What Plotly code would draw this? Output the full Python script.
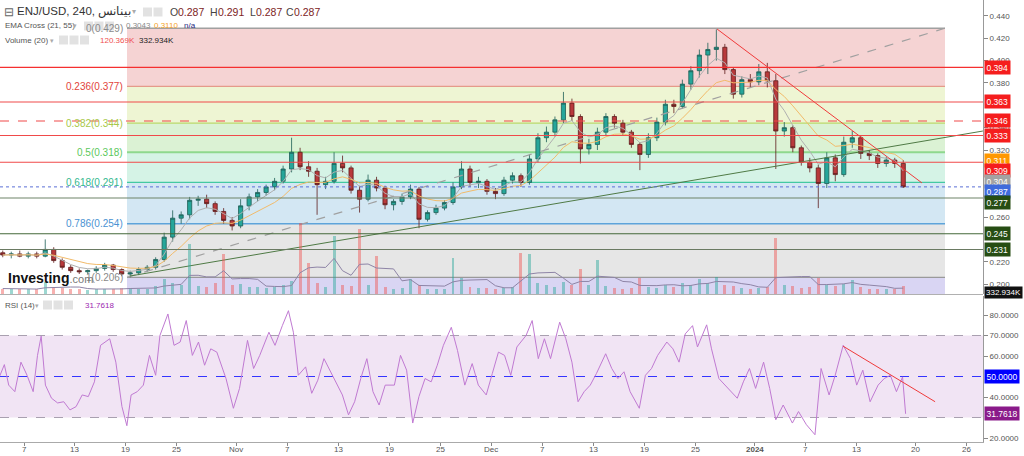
import pandas as pd
import plotly.graph_objects as go

# ---------------- DATA ----------------
dates = pd.date_range("2023-10-04", "2024-01-18", freq="D")

opens = [0.228,0.226,0.227,0.225,0.227,0.225,0.231,0.221,0.215,0.212,0.211,0.212,0.214,0.217,0.213,0.209,0.210,0.213,0.215,0.222,0.242,0.259,0.262,0.275,0.276,0.272,0.265,0.257,
         0.252,0.270,0.278,0.282,0.287,0.292,0.303,0.318,0.305,0.301,0.289,0.292,0.308,0.304,0.284,0.276,0.293,0.286,0.271,0.274,0.278,0.285,0.258,0.264,0.268,0.273,0.287,0.303,0.291,0.292,
         0.283,0.281,0.293,0.297,0.291,0.312,0.331,0.336,0.347,0.362,0.350,0.321,0.325,0.336,0.350,0.344,0.336,0.325,0.316,0.331,0.345,0.361,0.359,0.379,0.391,0.405,0.410,0.412,0.392,0.370,0.383,
         0.381,0.390,0.382,0.337,0.340,0.322,0.309,0.304,0.290,0.313,0.298,0.327,0.331,0.317,0.315,0.308,0.311,0.308]
highs = [0.230,0.229,0.230,0.229,0.229,0.240,0.233,0.223,0.217,0.214,0.213,0.216,0.219,0.218,0.214,0.212,0.215,0.217,0.224,0.246,0.266,0.265,0.278,0.279,0.280,0.274,0.268,0.260,
         0.276,0.281,0.285,0.289,0.295,0.306,0.331,0.322,0.310,0.304,0.296,0.318,0.315,0.306,0.288,0.298,0.296,0.288,0.276,0.281,0.289,0.287,0.266,0.271,0.275,0.291,0.310,0.306,0.296,0.294,
         0.286,0.296,0.300,0.299,0.316,0.335,0.341,0.350,0.372,0.366,0.352,0.330,0.340,0.353,0.352,0.347,0.338,0.327,0.335,0.349,0.365,0.365,0.383,0.395,0.410,0.416,0.428,0.415,0.394,0.386,0.388,
         0.397,0.398,0.388,0.345,0.342,0.324,0.313,0.307,0.318,0.316,0.332,0.337,0.333,0.320,0.317,0.314,0.313,0.311]
lows = [0.224,0.223,0.224,0.223,0.223,0.224,0.219,0.213,0.210,0.209,0.209,0.210,0.212,0.211,0.207,0.206,0.208,0.211,0.213,0.220,0.238,0.254,0.258,0.270,0.268,0.262,0.254,0.248,
        0.250,0.266,0.274,0.279,0.284,0.290,0.300,0.302,0.296,0.262,0.285,0.290,0.300,0.281,0.264,0.274,0.283,0.267,0.266,0.271,0.276,0.250,0.256,0.262,0.266,0.271,0.285,0.287,0.286,0.280,
        0.276,0.279,0.290,0.287,0.289,0.309,0.327,0.332,0.344,0.346,0.308,0.316,0.320,0.333,0.340,0.333,0.322,0.302,0.313,0.328,0.342,0.353,0.357,0.374,0.385,0.388,0.400,0.388,0.366,0.367,0.376,
        0.378,0.376,0.303,0.332,0.318,0.306,0.300,0.268,0.286,0.292,0.296,0.322,0.312,0.311,0.304,0.305,0.304,0.286]
closes = [0.226,0.227,0.225,0.227,0.225,0.231,0.221,0.215,0.212,0.211,0.212,0.214,0.217,0.213,0.209,0.210,0.213,0.215,0.222,0.242,0.259,0.262,0.275,0.276,0.272,0.265,0.257,0.252,
          0.270,0.278,0.282,0.287,0.292,0.303,0.318,0.305,0.301,0.289,0.292,0.308,0.304,0.284,0.276,0.293,0.286,0.271,0.274,0.278,0.285,0.258,0.264,0.268,0.273,0.287,0.303,0.291,0.292,0.283,
          0.281,0.293,0.297,0.291,0.312,0.331,0.336,0.347,0.362,0.350,0.321,0.325,0.336,0.350,0.344,0.336,0.325,0.316,0.331,0.345,0.361,0.359,0.379,0.391,0.405,0.410,0.412,0.392,0.370,0.383,0.381,
          0.390,0.382,0.337,0.340,0.322,0.309,0.304,0.290,0.313,0.298,0.327,0.331,0.317,0.315,0.308,0.311,0.308,0.287]
volumes_k = [300,280,260,250,270,650,400,320,280,260,240,260,300,280,320,350,300,280,420,850,600,500,2750,450,400,600,2200,500,
             550,400,380,350,400,500,700,3900,1700,600,400,3200,500,450,3600,500,2100,400,300,320,830,500,300,280,260,2000,900,400,350,320,
             300,350,400,2250,2200,600,500,400,650,500,1400,500,1850,450,350,300,350,900,400,350,500,400,600,500,800,600,950,500,450,350,300,
             350,400,3100,500,450,350,400,900,500,450,550,750,400,300,280,300,280,450]

# RSI(14): day offsets from 2023-10-07 and values
rsi_day = [-2.88,-2.31,-1.80,-1.08,-0.36,0.36,1.08,1.59,2.02,2.52,3.24,3.96,4.68,5.41,6.13,6.85,7.57,8.29,9.01,10.09,
           10.81,11.53,12.11,12.61,13.33,14.05,14.77,15.50,16.00,16.94,17.66,18.38,19.10,19.82,20.54,21.26,21.98,22.70,23.78,24.65,
           25.37,26.31,27.03,27.75,28.83,29.55,30.41,31.13,31.71,32.29,33.15,33.87,34.59,35.31,36.40,37.48,38.20,38.92,39.64,40.36,
           41.08,41.80,42.52,43.60,44.32,45.04,45.76,46.49,47.21,47.93,48.65,49.37,50.30,51.03,51.89,52.76,53.48,54.41,55.13,55.85,
           56.57,57.30,58.02,59.10,59.82,60.54,61.26,61.98,63.06,63.78,64.50,65.22,65.94,66.66,67.39,68.47,69.19,69.91,70.63,71.35,
           72.43,73.15,73.87,74.59,75.67,76.39,77.11,77.84,78.70,79.28,80.36,80.93,81.80,82.88,83.96,84.68,85.40,86.12,87.06,87.78,
           88.50,89.37,90.45,91.17,92.10,93.11,93.83,94.77,95.49,96.43,97.29,98.02,98.74,99.60,100.54,101.26,101.98,102.70,103.42,103.78]
rsi_val = [50.0,55.8,45.8,42.6,57.0,50.6,42.6,60.3,69.7,45.8,39.4,37.1,37.7,33.7,35.3,41.0,40.2,47.4,65.2,68.4,
           57.0,35.3,26.0,41.0,42.6,45.8,60.3,50.6,70.0,80.5,65.2,66.8,77.3,60.3,66.8,55.5,63.5,61.9,49.0,34.5,
           44.2,67.6,53.9,60.3,71.6,65.2,74.8,82.1,71.6,50.6,54.7,41.8,48.2,58.7,49.8,41.0,31.3,37.7,49.0,58.7,
           42.6,36.1,45.8,45.8,60.3,53.1,27.3,40.2,49.0,47.4,55.5,65.2,74.0,62.7,45.8,56.3,45.8,41.0,51.5,61.9,
           60.3,50.6,64.4,70.0,77.3,58.7,68.4,58.7,76.5,68.4,57.0,37.7,42.6,45.8,51.5,61.1,53.9,49.0,52.3,42.6,
           34.5,50.6,53.9,60.3,66.8,63.5,57.0,70.8,74.8,64.4,75.2,63.5,49.0,44.2,39.4,47.4,53.9,44.2,57.0,44.2,
           28.9,36.1,27.3,32.9,26.5,21.6,53.9,41.0,50.6,65.2,58.7,45.8,53.1,37.7,45.8,49.0,50.6,42.6,49.8,31.8]
rsi_last = 31.7618

# Fibonacci retracement drawing
fib_start, fib_end = "2023-10-19 03:00", "2024-01-23 10:00"
fib_ratio = ["0", "0.236", "0.382", "0.5", "0.618", "0.786", "1"]
fib_price = [0.429, 0.377, 0.344, 0.318, 0.291, 0.254, 0.206]

# Horizontal levels
red_levels = [0.394, 0.363, 0.346, 0.333, 0.309]
green_levels = [0.277, 0.245, 0.231]
last_price = 0.287
ema21_last, ema55_last = 0.3043, 0.3110
vol_last, vol_ma_label = "120.369K", "332.934K"

# Trend lines (date, price)
red_trend = (["2023-12-27 14:00", "2024-01-20 17:00"], [0.4283, 0.2905])
green_trend = (["2023-10-19 11:30", "2024-01-27 21:00"], [0.2072, 0.337])
rsi_trend = (["2024-01-11 10:00", "2024-01-22 06:00"], [64.8, 37.7])

tick_dates = ["2023-10-07","2023-10-13","2023-10-19","2023-10-25","2023-11-01","2023-11-07","2023-11-13","2023-11-19",
              "2023-11-25","2023-12-01","2023-12-07","2023-12-13","2023-12-19","2023-12-25","2024-01-01","2024-01-07",
              "2024-01-13","2024-01-20","2024-01-26"]
tick_text = ["7","13","19","25","Nov","7","13","19","25","Dec","7","13","19","25","<b>2024</b>","7","13","20","26"]
price_ticks = [0.20, 0.22, 0.26, 0.32, 0.34, 0.38, 0.40, 0.42, 0.44]
rsi_ticks = [20, 40, 60, 70, 80]

# ---------------- FIGURE ----------------
FONT = "Liberation Sans, Arial, sans-serif"
X_RANGE = ["2023-10-04 04:12", "2024-01-27 21:20"]
Y_RANGE = [0.1911, 0.4543]
RSI_RANGE = [18.05, 89.27]

cx = dates + pd.Timedelta(hours=12)
cs = pd.Series(closes)
ema21 = cs.ewm(span=4, adjust=False).mean()
ema55 = cs.ewm(span=10, adjust=False).mean()
vol = pd.Series(volumes_k)
vol_ma = vol.rolling(5, min_periods=1).mean()
vol_colors = ["rgba(38,166,154,0.45)" if c >= o else "rgba(239,83,80,0.45)" for o, c in zip(opens, closes)]
rsi_time = pd.Timestamp("2023-10-07") + pd.to_timedelta(rsi_day, unit="D")

fig = go.Figure()
fig.add_trace(go.Candlestick(x=cx, open=opens, high=highs, low=lows, close=closes,
                             increasing=dict(fillcolor="#26a69a", line=dict(color="#1d5e55", width=0.8)),
                             decreasing=dict(fillcolor="#b8393b", line=dict(color="#5e1c1c", width=0.8)),
                             whiskerwidth=0, showlegend=False, hoverinfo="skip"))
fig.add_trace(go.Scatter(x=cx, y=ema21, mode="lines", line=dict(color="#b0b0b0", width=1), showlegend=False, hoverinfo="skip"))
fig.add_trace(go.Scatter(x=cx, y=ema55, mode="lines", line=dict(color="#f2bb6a", width=1), showlegend=False, hoverinfo="skip"))
fig.add_trace(go.Scatter(x=[fib_start, fib_end], y=[fib_price[-1], fib_price[0]], mode="lines",
                         line=dict(color="#a0a0a0", width=1.2, dash="dash"), showlegend=False, hoverinfo="skip"))
fig.add_trace(go.Scatter(x=green_trend[0], y=green_trend[1], mode="lines", line=dict(color="#4f7a45", width=1),
                         showlegend=False, hoverinfo="skip"))
fig.add_trace(go.Scatter(x=red_trend[0], y=red_trend[1], mode="lines", line=dict(color="#f03a3a", width=1),
                         showlegend=False, hoverinfo="skip"))
fig.add_trace(go.Bar(x=cx, y=volumes_k, marker=dict(color=vol_colors, line=dict(width=0)), width=0.35 * 86400000,
                     xaxis="x", yaxis="y3", showlegend=False, hoverinfo="skip"))
fig.add_trace(go.Scatter(x=cx, y=vol_ma, mode="lines", line=dict(color="#8e84a6", width=1), xaxis="x", yaxis="y3",
                         showlegend=False, hoverinfo="skip"))
fig.add_trace(go.Scatter(x=rsi_time, y=rsi_val, mode="lines", line=dict(color="#c07ad2", width=1), xaxis="x2", yaxis="y2",
                         showlegend=False, hoverinfo="skip"))
fig.add_trace(go.Scatter(x=rsi_trend[0], y=rsi_trend[1], mode="lines", line=dict(color="#f03a3a", width=1),
                         xaxis="x2", yaxis="y2", showlegend=False, hoverinfo="skip"))

shapes = []
zone_fill = ["#f5d3d3", "#eef5d3", "#dbf2d4", "#d5f3e6", "#d3e7f3", "#e6e6e6"]
line_col = ["#a0a0a0", "#e59a8a", "#b9d86a", "#8ed88e", "#44c9a2", "#5ea4da", "#9a9a9a"]
lab_col = ["#8a8a8a", "#e2433a", "#a8c84a", "#5cc85c", "#33b88f", "#4a92d2", "#8a8a8a"]
for i in range(len(fib_price) - 1):
    shapes.append(dict(type="rect", xref="x", yref="y", x0=fib_start, x1=fib_end, y0=fib_price[i + 1], y1=fib_price[i],
                       fillcolor=zone_fill[i], line=dict(width=0), layer="below"))
shapes.append(dict(type="rect", xref="x", yref="y", x0=fib_start, x1=fib_end, y0=Y_RANGE[0], y1=fib_price[-1],
                   fillcolor="#d9d5f3", line=dict(width=0), layer="below"))
for i, p in enumerate(fib_price):
    shapes.append(dict(type="line", xref="x", yref="y", x0=fib_start, x1=fib_end, y0=p, y1=p,
                       line=dict(color=line_col[i], width=2 if fib_ratio[i] == "0.5" else 1.3), layer="below"))
for p in red_levels:
    shapes.append(dict(type="line", xref="x domain", yref="y", x0=0, x1=1, y0=p, y1=p,
                       line=dict(color="#f04a4a" if p != 0.394 else "#f53030", width=1.1,
                                 dash="dash" if p == 0.346 else "solid"), layer="above"))
for p, c in zip(green_levels, ["#6f8468", "#45683a", "#6a7a62"]):
    shapes.append(dict(type="line", xref="x domain", yref="y", x0=0, x1=1, y0=p, y1=p,
                       line=dict(color=c, width=1.1), layer="above"))
shapes.append(dict(type="line", xref="x domain", yref="y", x0=0, x1=1, y0=last_price, y1=last_price,
                   line=dict(color="#5a6fd6", width=1, dash="dot"), layer="above"))
# RSI band & levels
shapes.append(dict(type="rect", xref="x2 domain", yref="y2", x0=0, x1=1, y0=30, y1=70,
                   fillcolor="#f1e4f4", line=dict(width=0), layer="below"))
for lv, c in [(70, "#a9a0b0"), (30, "#a9a0b0"), (50, "#3434ff")]:
    shapes.append(dict(type="line", xref="x2 domain", yref="y2", x0=0, x1=1, y0=lv, y1=lv,
                       line=dict(color=c, width=1, dash="dash"), layer="below"))
# pane separator
shapes.append(dict(type="line", xref="paper", yref="paper", x0=0, x1=983 / 1024, y0=1 - 294.5 / 456, y1=1 - 294.5 / 456,
                   line=dict(color="#b0b0b0", width=1)))

def px(x):
    return x / 1024

def py(y):
    return 1 - y / 456

annotations = []

def text(t, x, y, size, color, anchor="left"):
    annotations.append(dict(text=t, x=px(x), y=py(y), xref="paper", yref="paper",
                            xanchor=anchor, yanchor="middle", showarrow=False,
                            font=dict(family=FONT, size=size, color=color)))

# x tick labels
for d, t in zip(tick_dates, tick_text):
    annotations.append(dict(text=t, x=d, y=py(449), xref="x2", yref="paper", xanchor="center", yanchor="middle",
                            showarrow=False, font=dict(family=FONT, size=8, color="#555")))

# fib labels
for i, p in enumerate(fib_price):
    annotations.append(dict(text=f"{fib_ratio[i]}({p:.3f})", x=fib_start, y=p, xref="x", yref="y", xanchor="right",
                            yanchor="middle", xshift=-2, showarrow=False, font=dict(family=FONT, size=10, color=lab_col[i])))

# right price labels (stacked to avoid overlap)
labels = [(p, "#f51d1d") for p in red_levels] + [(round(ema55_last, 3), "#ff9800"), (round(ema21_last, 3), "#a3a3a3"),
                                                   (last_price, "#3f6bdc")] + [(p, "#264d13") for p in green_levels]
labels.sort(key=lambda t: -t[0])
prev = None
for p, c in labels:
    yd = p if prev is None else min(p, prev - 0.0094)
    prev = yd
    annotations.append(dict(text=f"{p:.3f}", x=984 / 1024, y=yd, xref="paper", yref="y", xanchor="left", yanchor="middle",
                            showarrow=False, bgcolor=c, borderpad=1.5, font=dict(family=FONT, size=8.5, color="white")))
annotations.append(dict(text=vol_ma_label, x=984 / 1024, y=py(292.5), xref="paper", yref="paper", xanchor="left",
                        yanchor="middle", showarrow=False, bgcolor="#111111", borderpad=1,
                        font=dict(family=FONT, size=8, color="white")))
for v, c in [(50.0, "#0000ff"), (rsi_last, "#8a1a8a")]:
    annotations.append(dict(text=f"{v:.4f}", x=984 / 1024, y=v, xref="paper", yref="y2", xanchor="left", yanchor="middle",
                            showarrow=False, bgcolor=c, borderpad=1.5, font=dict(family=FONT, size=8.5, color="white")))

# header legend
text("⊟", 2, 12, 12, "#666")
text("ENJ/USD, 240, بينانس", 15, 12, 11.5, "#333")
text("▾", 130, 12, 8, "#aaa")
for lt, lx, val in [("O", 168, 0.287), ("H", 208, 0.291), ("L", 248, 0.287), ("C", 284, 0.287)]:
    text(lt, lx, 12, 10.5, "#444")
    text(f"{val:.3f}", lx + (8 if lt != "L" else 6), 12, 10.5, "#7d2424")
text("EMA Cross (21, 55)", 3, 26, 8, "#555")
text("▾", 71, 26, 7, "#aaa")
text(f"{ema21_last:.4f}", 124, 26, 8, "#8a8a8a")
text(f"{ema55_last:.4f}", 152, 26, 8, "#f5a21e")
text("n/a", 182, 26, 8, "#1f2a80")
text("Volume (20)", 3, 40, 8, "#555")
text("▾", 48, 40, 7, "#aaa")
text(vol_last, 98, 40, 8, "#ef4f4f")
text(vol_ma_label, 137, 40, 8, "#222")
text("RSI (14)", 3, 305, 8, "#555")
text("▾", 33, 305, 7, "#aaa")
text(f"{rsi_last:.4f}", 83, 305, 8, "#9c27b0")
annotations.append(dict(text="<b>Investing</b><span style='color:#777;font-size:11px'>.com</span>", x=px(6), y=py(278),
                        xref="paper", yref="paper", xanchor="left", yanchor="middle", showarrow=False,
                        font=dict(family=FONT, size=14, color="#111")))

# header icons
for (x0, yc, n) in [(143, 12, 2), (84, 26, 3), (59, 40, 3), (43, 305, 3)]:
    for k in range(n):
        shapes.append(dict(type="rect", xref="paper", yref="paper", x0=px(x0 + k * 10.5), x1=px(x0 + k * 10.5 + 9),
                           y0=py(yc + 4.5), y1=py(yc - 4.5), fillcolor="#e2e2e2", line=dict(width=0)))

fig.update_layout(
    width=1024, height=456, margin=dict(l=0, r=0, t=0, b=0),
    paper_bgcolor="white", plot_bgcolor="white", showlegend=False, bargap=0,
    font=dict(family=FONT, size=8, color="#555"),
    xaxis=dict(domain=[0, 983 / 1024], anchor="y", type="date", range=X_RANGE, showticklabels=False, showgrid=False,
               zeroline=False, rangeslider=dict(visible=False), automargin=False),
    yaxis=dict(domain=[1 - 294 / 456, 1], anchor="x", side="right", range=Y_RANGE,
               tickvals=price_ticks, tickformat=".3f", ticks="outside", ticklen=4,
               tickcolor="#888", showline=True, linecolor="#999", showgrid=False, zeroline=False,
               tickfont=dict(family=FONT, size=8, color="#555"), automargin=False),
    yaxis3=dict(overlaying="y", range=[0, 16170], visible=False, showgrid=False, zeroline=False),
    xaxis2=dict(domain=[0, 983 / 1024], anchor="y2", type="date", matches="x", range=X_RANGE,
                tickvals=tick_dates, showticklabels=False, ticks="outside", ticklen=3, tickcolor="#888",
                showline=True, linecolor="#aaa", showgrid=False, zeroline=False, automargin=False),
    yaxis2=dict(domain=[1 - 442 / 456, 1 - 296 / 456], anchor="x2", side="right", range=RSI_RANGE,
                tickvals=rsi_ticks, tickformat=".4f", ticks="outside", ticklen=4, tickcolor="#888",
                showline=True, linecolor="#999", showgrid=False, zeroline=False,
                tickfont=dict(family=FONT, size=8, color="#555"), automargin=False),
    shapes=shapes, annotations=annotations,
)

fig.write_html("out.html")
